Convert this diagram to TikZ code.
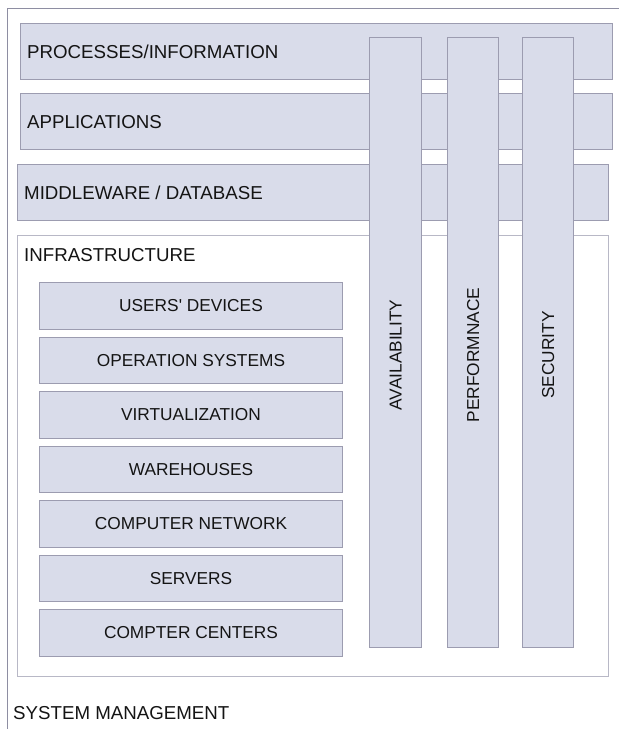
\documentclass[tikz,border=0pt]{standalone}
\usepackage{fontspec}
\setmainfont{Liberation Sans}
\definecolor{barfill}{RGB}{217,220,234}
\definecolor{barline}{RGB}{156,156,176}
\definecolor{infraline}{RGB}{184,184,198}
\definecolor{frameline}{RGB}{142,142,162}
\definecolor{txt}{RGB}{20,20,20}
\begin{document}
\begin{tikzpicture}[x=1pt,y=-1pt,
  bar/.style={draw=barline, fill=barfill, line width=1pt, inner sep=0pt, anchor=north west},
  infrabox/.style={draw=infraline, fill=white, line width=1pt, inner sep=0pt, anchor=north west},
  bigtxt/.style={font=\fontsize{18.7}{20}\selectfont, text=txt, inner sep=0pt, text height=13.4pt, text depth=0pt},
  smalltxt/.style={font=\fontsize{17.3}{19}\selectfont, text=txt, inner sep=0pt, text height=12.4pt, text depth=0pt}
]
\useasboundingbox (0,0) rectangle (619,729);
% outer frame
\draw[frameline, line width=1pt] (7,729) -- (7,8) -- (619,8);

% horizontal layers
\node[bar, minimum width=592pt, minimum height=56pt] (proc) at (20,23) {};
\node[bar, minimum width=592pt, minimum height=56pt] (appl) at (20,93) {};
\node[bar, minimum width=591pt, minimum height=56pt] (midw) at (17,164) {};
\node[infrabox, minimum width=591pt, minimum height=441pt] (infra) at (17,235) {};

\node[bigtxt, anchor=west] (tproc) at ([xshift=7pt]proc.west) {PROCESSES/INFORMATION};
\node[bigtxt, anchor=west] (tappl) at ([xshift=7pt]appl.west) {APPLICATIONS};
\node[bigtxt, anchor=west] (tmidw) at ([xshift=7pt]midw.west) {MIDDLEWARE / DATABASE};
\node[bigtxt, anchor=west] (tinfra) at (24,255) {INFRASTRUCTURE};

% infrastructure components
\foreach \i/\t [count=\k from 0] in {i1/USERS\textquotesingle\ DEVICES, i2/OPERATION SYSTEMS, i3/VIRTUALIZATION, i4/WAREHOUSES, i5/COMPUTER NETWORK, i6/SERVERS, i7/COMPTER CENTERS} {
  \node[bar, minimum width=303pt, minimum height=46.5pt] (\i) at (39,{282+54.5*\k}) {};
  \node[smalltxt] (t\i) at (\i.center) {\t};
}

% vertical pillars
\node[bar, minimum width=52pt, minimum height=610pt] (avail) at (369,37) {};
\node[bar, minimum width=51pt, minimum height=610pt] (perf) at (447,37) {};
\node[bar, minimum width=51pt, minimum height=610pt] (secu) at (522,37) {};
\node[smalltxt, rotate=90] (tavail) at (avail.center |- 0,355) {AVAILABILITY};
\node[smalltxt, rotate=90] (tperf) at (perf.center |- 0,355) {PERFORMNACE};
\node[smalltxt, rotate=90] (tsecu) at (secu.center |- 0,355) {SECURITY};

% bottom label
\node[bigtxt, anchor=west] (tsys) at (13,713) {SYSTEM MANAGEMENT};
\end{tikzpicture}
\end{document}
